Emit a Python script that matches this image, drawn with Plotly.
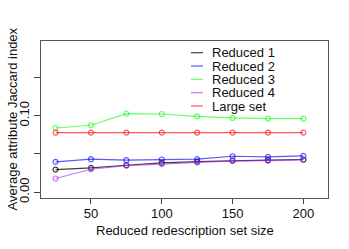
import plotly.graph_objects as go

sizes = [25, 50, 75, 100, 125, 150, 175, 200]
reduced1 = [0.0296, 0.0317, 0.0352, 0.0383, 0.0400, 0.0413, 0.0418, 0.0427]
reduced2 = [0.0396, 0.0431, 0.0418, 0.0427, 0.0431, 0.0470, 0.0461, 0.0474]
reduced3 = [0.0839, 0.0875, 0.1027, 0.1022, 0.0992, 0.0970, 0.0962, 0.0962]
reduced4 = [0.0179, 0.0300, 0.0348, 0.0366, 0.0388, 0.0409, 0.0413, 0.0422]
large_set = [0.0779] * 8

names = ["Reduced 1", "Reduced 2", "Reduced 3", "Reduced 4", "Large set"]
colors = ["rgba(0,0,0,0.75)", "rgba(0,0,255,0.65)", "rgba(0,255,0,0.6)",
          "rgba(160,32,240,0.6)", "rgba(255,0,0,0.65)"]
series = [reduced1, reduced2, reduced3, reduced4, large_set]

ytickvals = [0.0, 0.05, 0.10, 0.15]
yticktext = ["0.00", "", "0.10", ""]
xtickvals = [50, 100, 150, 200]

FONT = "Liberation Sans, Arial, sans-serif"

fig = go.Figure()
for name, col, vals in zip(names, colors, series):
    fig.add_trace(go.Scatter(
        x=sizes, y=vals, name=name, mode="lines+markers",
        line=dict(color=col, width=1.2),
        marker=dict(symbol="circle-open", size=5, color=col, line=dict(width=1.2, color=col)),
        showlegend=False,
    ))

L, R, T, B = 41, 21, 41, 51
W, H = 349, 249
pw, ph = W - L - R, H - T - B

def px_x(px):
    return (px - L) / pw

def px_y(py):
    return (H - B - py) / ph

shapes = []
annotations = []
for i, (name, col) in enumerate(zip(names, colors)):
    yy = px_y(52.7 + 13.33 * i)
    shapes.append(dict(type="line", xref="paper", yref="paper",
                       x0=px_x(191), x1=px_x(203), y0=yy, y1=yy,
                       line=dict(color=col, width=1.2)))
    annotations.append(dict(text=name, xref="paper", yref="paper",
                            x=px_x(211), y=yy, xanchor="left", yanchor="middle",
                            showarrow=False, borderpad=0,
                            font=dict(size=13, color="#111", family=FONT)))

annotations.append(dict(text="Average attribute Jaccard index", xref="paper", yref="paper",
                        x=px_x(12), y=0.5, xanchor="center", yanchor="middle", textangle=-90,
                        showarrow=False, font=dict(size=13, color="#111", family=FONT)))
annotations.append(dict(text="Reduced redescription set size", xref="paper", yref="paper",
                        x=0.5, y=px_y(230), xanchor="center", yanchor="middle",
                        showarrow=False, font=dict(size=13, color="#111", family=FONT)))

fig.update_layout(
    width=W, height=H,
    margin=dict(l=L, r=R, t=T, b=B, autoexpand=False),
    paper_bgcolor="white", plot_bgcolor="white",
    font=dict(family=FONT, size=13, color="#111"),
    shapes=shapes, annotations=annotations,
    xaxis=dict(range=[14.7, 217.4], tickvals=xtickvals, ticks="outside", ticklen=5,
               tickcolor="#444", showgrid=False, zeroline=False, showline=True,
               linecolor="#555", linewidth=1, mirror=True, tickfont=dict(size=13),
               ticklabelstandoff=-2),
    yaxis=dict(range=[-0.0076, 0.1976], tickvals=ytickvals, ticktext=yticktext,
               ticks="outside", ticklen=6, tickcolor="#444", tickangle=-90,
               showgrid=False, zeroline=False, showline=True, linecolor="#555",
               linewidth=1, mirror=True, tickfont=dict(size=13)),
)

fig.write_html("out.html", config={"displayModeBar": False},
               post_script="document.body.style.margin='0';document.body.style.overflow='hidden';")
